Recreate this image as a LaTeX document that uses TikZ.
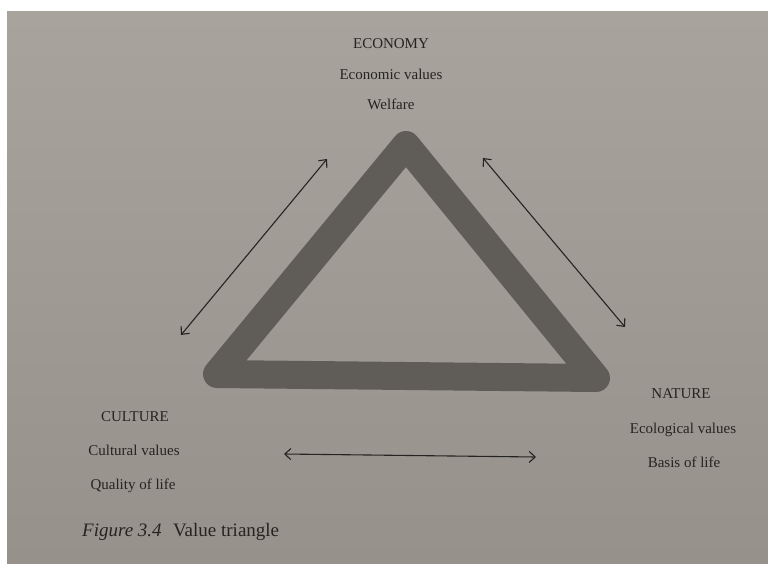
\documentclass[tikz,border=0pt]{standalone}
\usepackage{fontspec}
\setmainfont{Liberation Serif}
\usetikzlibrary{arrows.meta,positioning,calc}
\definecolor{paperhi}{RGB}{168,164,157}
\definecolor{paperlo}{RGB}{150,145,138}
\definecolor{band}{RGB}{96,93,89}
\definecolor{ink}{RGB}{38,36,34}
\tikzset{
  lbl/.style={text=ink,font=\fontsize{15}{18}\selectfont,inner sep=0pt,anchor=base},
  twoway/.style={{Straight Barb[length=6pt,width=11pt]}-{Straight Barb[length=6pt,width=11pt]},line width=1.1pt,draw=ink}
}

\begin{document}
\begin{tikzpicture}[x=1pt,y=-1pt]
\useasboundingbox (0,0) rectangle (768,563);
\fill[white] (0,0) rectangle (768,563);
\shade[top color=paperhi,bottom color=paperlo] (7,11) rectangle (768,563);
% the triangle
\coordinate (apex) at (406,145);
\coordinate (cornerl) at (217,374);
\coordinate (cornerr) at (596,378);
\draw[band,line width=28pt,line join=round] (cornerl) -- (apex) -- (cornerr) -- cycle;
% three value fields
\node[lbl] (econ) at (391,48) {ECONOMY};
\node[lbl] (econval) at (391,79) {Economic values};
\node[lbl] (welfare) at (391,109) {Welfare};
\node[lbl] (cult) at (135,421) {CULTURE};
\node[lbl] (cultval) at (134,455) {Cultural values};
\node[lbl] (quality) at (133,489) {Quality of life};
\node[lbl] (nat) at (681,398) {NATURE};
\node[lbl] (natval) at (683,433) {Ecological values};
\node[lbl] (basis) at (684,467) {Basis of life};
% arrows between the fields
\coordinate (ce1) at (181,335);
\coordinate (ce2) at (327,159);
\coordinate (en1) at (483,158);
\coordinate (en2) at (625,327);
\coordinate (cn1) at (284,454);
\coordinate (cn2) at (536,457);
\draw[twoway] (ce1) -- (ce2);
\draw[twoway] (en1) -- (en2);
\draw[twoway] (cn1) -- (cn2);
% caption
\node[lbl,anchor=base west,font=\fontsize{19}{22}\selectfont] (caption) at (82,536) {\textit{Figure 3.4}\hspace{0.6em}Value triangle};
\end{tikzpicture}
\end{document}
